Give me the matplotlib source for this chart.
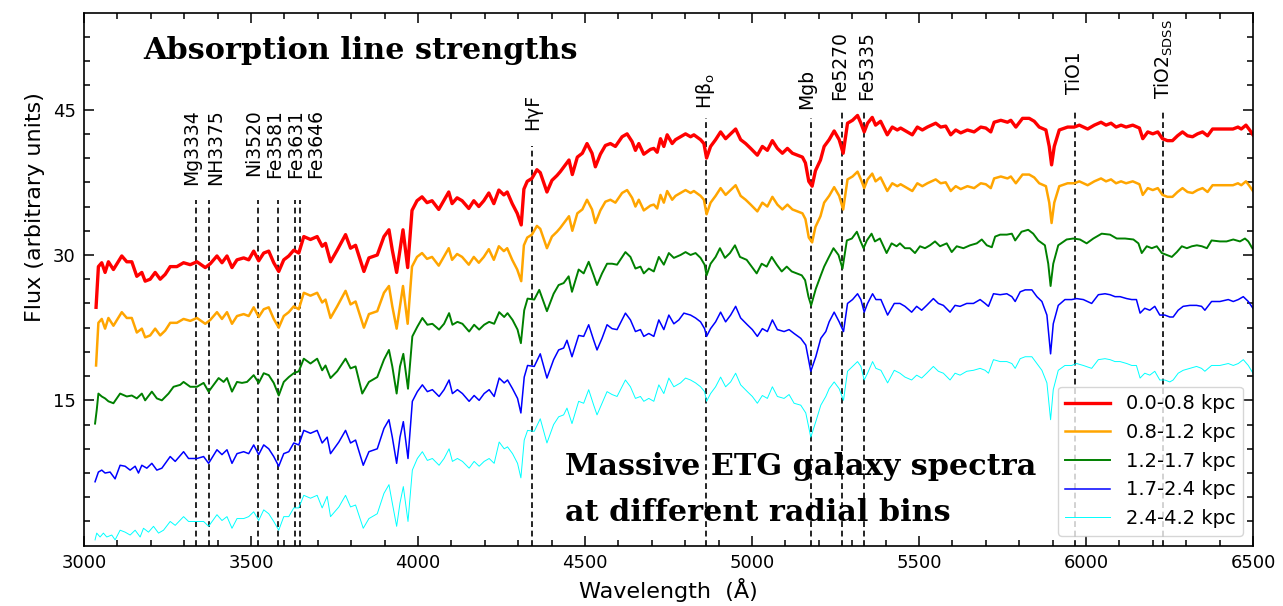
import matplotlib
matplotlib.use("Agg")
import matplotlib.pyplot as plt

# --- spectra (wavelength in Angstrom, flux in arbitrary units) ---
wave_inner = [
    3036, 3043, 3053, 3063, 3073, 3088, 3113, 3128, 3143, 3158,
    3173, 3183, 3198, 3213, 3228, 3243, 3258, 3278, 3298, 3318,
    3338, 3363, 3378, 3398, 3413, 3428, 3443, 3458, 3478, 3493,
    3508, 3523, 3538, 3553, 3568, 3583, 3598, 3613, 3628, 3643,
    3658, 3678, 3698, 3713, 3723, 3738, 3758, 3783, 3798, 3813,
    3838, 3853, 3878, 3898, 3913, 3923, 3936, 3946, 3955, 3969,
    3982, 3997, 4012, 4027, 4042, 4062, 4077, 4092, 4102, 4117,
    4132, 4152, 4167, 4182, 4197, 4212, 4227, 4242, 4257, 4267,
    4282, 4297, 4309, 4317, 4327, 4341, 4356, 4366, 4386, 4401,
    4416, 4426, 4437, 4452, 4462, 4477, 4492, 4506, 4521, 4531,
    4546, 4561, 4576, 4591, 4611, 4626, 4641, 4651, 4661, 4676,
    4696, 4706, 4716, 4726, 4736, 4746, 4761, 4771, 4786, 4801,
    4816, 4826, 4846, 4856, 4864, 4876, 4891, 4906, 4921, 4936,
    4951, 4966, 4981, 4996, 5016, 5031, 5046, 5061, 5076, 5091,
    5106, 5121, 5136, 5151, 5160, 5170, 5180, 5190, 5205, 5216,
    5231, 5246, 5261, 5273, 5286, 5301, 5316, 5326, 5336, 5346,
    5360, 5370, 5385, 5405, 5420, 5435, 5445, 5460, 5480, 5495,
    5510, 5525, 5550, 5565, 5580, 5595, 5610, 5625, 5645, 5665,
    5685, 5700, 5715, 5725, 5745, 5765, 5775, 5790, 5810, 5830,
    5845, 5860, 5880, 5890, 5897, 5905, 5920, 5945, 5965, 5980,
    6005, 6025, 6045, 6060, 6075, 6090, 6105, 6120, 6140, 6160,
    6170, 6185, 6200, 6215, 6229, 6244, 6259, 6274, 6289, 6304,
    6319, 6334, 6349, 6364, 6379, 6400, 6420, 6440, 6455, 6465,
    6479, 6490, 6500]

flux_00_08 = [
    24.6, 28.8, 29.2, 28.2, 29.3, 28.5, 29.9, 29.3, 29.3, 27.8,
    28.2, 27.3, 27.5, 28.2, 27.5, 28.0, 28.8, 28.8, 29.2, 29.0,
    29.3, 28.7, 29.1, 29.9, 29.2, 29.9, 28.7, 29.5, 29.7, 29.5,
    30.4, 29.4, 30.2, 30.4, 29.2, 28.3, 29.5, 29.9, 30.5, 30.2,
    31.9, 31.6, 31.9, 30.9, 31.2, 29.3, 30.5, 32.1, 30.7, 31.0,
    28.3, 29.7, 30.0, 31.9, 32.6, 30.5, 28.2, 30.5, 32.6, 28.7,
    34.6, 35.6, 36.0, 35.4, 35.6, 34.7, 35.6, 36.5, 35.3, 35.9,
    35.6, 34.8, 35.6, 35.0, 35.6, 36.4, 35.3, 36.7, 36.2, 36.5,
    35.3, 34.3, 33.1, 36.8, 37.6, 37.9, 38.8, 38.5, 36.5, 37.7,
    38.2, 38.6, 39.1, 39.8, 38.3, 40.1, 40.5, 41.5, 40.5, 39.1,
    40.4, 41.3, 41.5, 41.2, 42.2, 42.5, 41.7, 40.8, 41.5, 40.4,
    40.9, 41.0, 40.6, 42.0, 41.2, 42.4, 41.5, 41.9, 42.2, 42.5,
    42.2, 42.4, 41.9, 41.5, 40.0, 41.2, 41.9, 42.7, 42.0, 42.5,
    43.0, 41.9, 41.5, 41.0, 40.3, 41.2, 40.8, 41.8, 41.0, 40.5,
    41.0, 40.5, 40.3, 40.1, 39.5, 37.6, 37.1, 38.7, 39.8, 41.2,
    41.9, 42.8, 41.9, 40.5, 43.6, 43.9, 44.4, 43.6, 42.7, 43.6,
    44.2, 43.4, 43.8, 42.4, 43.2, 42.9, 43.1, 42.8, 42.4, 43.2,
    42.9, 43.2, 43.6, 43.2, 43.3, 42.4, 42.9, 42.6, 42.9, 42.7,
    43.2, 43.1, 42.7, 43.7, 43.9, 43.7, 43.9, 43.2, 44.1, 44.1,
    43.8, 43.2, 42.9, 41.2, 39.3, 41.2, 42.9, 43.2, 43.2, 43.4,
    43.0, 43.4, 43.7, 43.4, 43.6, 43.2, 43.4, 43.2, 43.4, 43.1,
    42.0, 42.7, 42.5, 42.7, 42.0, 41.8, 41.8, 42.3, 42.7, 42.3,
    42.2, 42.5, 42.7, 42.3, 43.0, 43.0, 43.0, 43.0, 43.2, 43.0,
    43.4, 42.9, 42.4]

flux_08_12 = [
    18.6, 23.0, 23.4, 22.4, 23.5, 22.7, 24.1, 23.5, 23.5, 22.0,
    22.4, 21.5, 21.7, 22.4, 21.7, 22.2, 23.0, 23.0, 23.4, 23.2,
    23.5, 22.9, 23.3, 24.1, 23.4, 24.1, 22.9, 23.7, 23.9, 23.7,
    24.6, 23.6, 24.4, 24.6, 23.4, 22.5, 23.7, 24.1, 24.7, 24.4,
    26.1, 25.8, 26.1, 25.1, 25.4, 23.5, 24.7, 26.3, 24.9, 25.2,
    22.5, 23.9, 24.2, 26.1, 26.8, 24.7, 22.4, 24.7, 26.8, 22.9,
    28.8, 29.8, 30.2, 29.6, 29.8, 28.9, 29.8, 30.7, 29.5, 30.1,
    29.8, 29.0, 29.8, 29.2, 29.8, 30.6, 29.5, 30.9, 30.4, 30.7,
    29.5, 28.5, 27.3, 31.0, 31.8, 32.1, 33.0, 32.7, 30.7, 31.9,
    32.4, 32.8, 33.3, 34.0, 32.5, 34.3, 34.7, 35.7, 34.7, 33.3,
    34.6, 35.5, 35.7, 35.4, 36.4, 36.7, 35.9, 35.0, 35.7, 34.6,
    35.1, 35.2, 34.8, 36.2, 35.4, 36.6, 35.7, 36.1, 36.4, 36.7,
    36.4, 36.6, 36.1, 35.7, 34.2, 35.4, 36.1, 36.9, 36.2, 36.7,
    37.2, 36.1, 35.7, 35.2, 34.5, 35.4, 35.0, 36.0, 35.2, 34.7,
    35.2, 34.7, 34.5, 34.3, 33.7, 31.8, 31.3, 32.9, 34.0, 35.4,
    36.1, 37.0, 36.1, 34.7, 37.8, 38.1, 38.6, 37.8, 36.9, 37.8,
    38.4, 37.6, 38.0, 36.6, 37.4, 37.1, 37.3, 37.0, 36.6, 37.4,
    37.1, 37.4, 37.8, 37.4, 37.5, 36.6, 37.1, 36.8, 37.1, 36.9,
    37.4, 37.3, 36.9, 37.9, 38.1, 37.9, 38.1, 37.4, 38.3, 38.3,
    38.0, 37.4, 37.1, 35.4, 33.3, 35.4, 37.1, 37.4, 37.4, 37.6,
    37.2, 37.6, 37.9, 37.6, 37.8, 37.4, 37.6, 37.4, 37.6, 37.3,
    36.2, 36.9, 36.7, 36.9, 36.2, 36.0, 36.0, 36.5, 36.9, 36.5,
    36.4, 36.7, 36.9, 36.5, 37.2, 37.2, 37.2, 37.2, 37.4, 37.2,
    37.6, 37.1, 36.6]

wave_12_17 = [
    3033, 3038, 3043, 3053, 3063, 3073, 3088, 3108, 3128, 3143,
    3158, 3173, 3183, 3203, 3218, 3233, 3253, 3268, 3288, 3298,
    3318, 3338, 3358, 3373, 3388, 3403, 3418, 3428, 3443, 3458,
    3473, 3488, 3508, 3523, 3538, 3553, 3568, 3583, 3598, 3613,
    3628, 3643, 3658, 3678, 3698, 3713, 3723, 3738, 3758, 3783,
    3798, 3813, 3833, 3853, 3878, 3898, 3913, 3923, 3936, 3946,
    3956, 3970, 3983, 3998, 4013, 4028, 4043, 4063, 4078, 4093,
    4103, 4118, 4133, 4153, 4168, 4183, 4198, 4213, 4228, 4243,
    4258, 4268, 4283, 4298, 4308, 4318, 4328, 4348, 4363, 4386,
    4406, 4421, 4436, 4451, 4461, 4481, 4496, 4511, 4526, 4536,
    4551, 4566, 4581, 4596, 4621, 4636, 4651, 4666, 4676, 4691,
    4706, 4721, 4736, 4751, 4766, 4786, 4801, 4816, 4831, 4846,
    4858, 4864, 4876, 4891, 4904, 4919, 4934, 4949, 4964, 4984,
    4999, 5014, 5029, 5044, 5059, 5074, 5089, 5104, 5119, 5134,
    5149, 5159, 5169, 5177, 5191, 5206, 5216, 5229, 5244, 5259,
    5271, 5284, 5299, 5314, 5324, 5334, 5344, 5358, 5368, 5383,
    5403, 5418, 5433, 5443, 5458, 5473, 5488, 5503, 5518, 5533,
    5548, 5563, 5583, 5598, 5613, 5633, 5653, 5673, 5688, 5703,
    5718, 5728, 5743, 5763, 5778, 5788, 5807, 5827, 5842, 5857,
    5877, 5887, 5894, 5902, 5917, 5942, 5962, 5982, 6002, 6022,
    6047, 6072, 6092, 6117, 6142, 6157, 6167, 6182, 6197, 6212,
    6227, 6242, 6257, 6272, 6287, 6302, 6317, 6332, 6347, 6362,
    6376, 6401, 6421, 6441, 6461, 6476, 6486, 6498]

flux_12_17 = [
    12.6, 14.0, 15.7, 15.4, 15.2, 14.9, 14.7, 15.7, 15.4, 15.5,
    15.2, 15.7, 15.0, 15.9, 15.2, 15.0, 15.7, 16.4, 16.6, 16.9,
    16.4, 16.4, 16.8, 15.9, 16.6, 17.3, 16.9, 17.3, 15.9, 16.9,
    16.8, 16.9, 17.6, 16.8, 17.8, 17.6, 16.8, 15.5, 16.9, 17.4,
    17.8, 18.0, 19.3, 18.8, 19.3, 18.1, 18.6, 17.3, 18.0, 19.3,
    18.3, 18.5, 15.7, 16.9, 17.4, 19.2, 20.2, 18.5, 15.7, 18.5,
    19.8, 16.2, 21.6, 22.6, 23.5, 22.8, 22.9, 22.3, 22.9, 24.0,
    22.8, 23.1, 22.9, 22.1, 22.8, 22.3, 22.8, 23.1, 22.9, 24.1,
    23.6, 24.0, 23.3, 22.3, 20.9, 24.3, 25.5, 25.4, 26.4, 24.2,
    26.0, 26.9, 27.1, 27.8, 26.2, 28.5, 28.1, 29.3, 27.9, 26.9,
    28.1, 29.1, 29.1, 29.0, 30.3, 29.8, 28.6, 28.8, 28.1, 28.6,
    28.3, 29.8, 29.0, 30.2, 29.7, 30.0, 30.3, 30.0, 30.2, 29.7,
    29.0, 27.9, 29.1, 29.8, 30.7, 29.7, 30.2, 31.0, 29.8, 29.5,
    28.8, 28.1, 29.1, 28.8, 29.8, 29.0, 28.3, 28.8, 28.3, 28.1,
    27.9, 27.4, 25.7, 24.8, 26.5, 27.9, 28.8, 29.7, 30.7, 30.0,
    28.6, 31.5, 31.7, 32.4, 31.5, 30.7, 31.5, 32.2, 31.4, 31.7,
    30.2, 31.2, 30.9, 31.2, 30.7, 30.7, 30.2, 30.9, 30.7, 31.0,
    31.4, 30.9, 31.2, 30.3, 30.9, 30.7, 31.0, 31.2, 31.6, 31.0,
    30.8, 31.9, 32.1, 32.1, 32.2, 31.5, 32.4, 32.6, 32.2, 31.5,
    31.0, 29.1, 26.8, 29.1, 31.0, 31.6, 31.7, 31.6, 31.2, 31.7,
    32.2, 32.1, 31.7, 31.7, 31.6, 31.2, 30.2, 30.9, 30.7, 30.9,
    30.2, 30.0, 29.8, 30.3, 30.9, 30.7, 30.9, 31.0, 30.9, 30.7,
    31.5, 31.4, 31.4, 31.6, 31.4, 31.7, 31.4, 30.7]

wave_17_24 = [
    3033, 3043, 3053, 3063, 3078, 3093, 3108, 3123, 3138, 3153,
    3163, 3173, 3188, 3203, 3218, 3233, 3258, 3273, 3298, 3313,
    3338, 3358, 3373, 3398, 3413, 3428, 3443, 3458, 3478, 3493,
    3508, 3523, 3538, 3553, 3568, 3583, 3598, 3613, 3628, 3643,
    3658, 3678, 3698, 3713, 3728, 3738, 3763, 3783, 3798, 3813,
    3836, 3853, 3878, 3898, 3913, 3923, 3936, 3946, 3956, 3970,
    3983, 3998, 4013, 4028, 4043, 4063, 4078, 4093, 4103, 4118,
    4133, 4153, 4168, 4183, 4198, 4213, 4228, 4243, 4258, 4268,
    4283, 4298, 4308, 4318, 4328, 4348, 4366, 4386, 4406, 4421,
    4436, 4446, 4461, 4481, 4496, 4511, 4526, 4536, 4551, 4566,
    4581, 4596, 4621, 4636, 4651, 4666, 4676, 4691, 4706, 4721,
    4736, 4751, 4766, 4781, 4796, 4816, 4831, 4846, 4858, 4864,
    4876, 4891, 4906, 4921, 4936, 4951, 4966, 4986, 5001, 5016,
    5031, 5046, 5061, 5076, 5096, 5111, 5126, 5146, 5161, 5176,
    5191, 5206, 5221, 5231, 5246, 5261, 5274, 5286, 5301, 5316,
    5326, 5336, 5346, 5361, 5371, 5386, 5406, 5426, 5443, 5458,
    5478, 5493, 5508, 5523, 5543, 5558, 5573, 5593, 5608, 5623,
    5643, 5663, 5683, 5698, 5708, 5723, 5743, 5763, 5778, 5788,
    5803, 5818, 5838, 5853, 5868, 5883, 5894, 5902, 5917, 5937,
    5957, 5972, 5992, 6017, 6037, 6057, 6072, 6087, 6102, 6122,
    6137, 6151, 6162, 6176, 6191, 6206, 6221, 6236, 6251, 6261,
    6276, 6291, 6311, 6331, 6346, 6356, 6376, 6401, 6426, 6441,
    6456, 6471, 6486, 6500]

flux_17_24 = [
    6.6, 7.6, 7.8, 7.5, 7.6, 6.9, 8.3, 8.2, 7.8, 8.2,
    7.5, 8.3, 8.0, 8.5, 7.8, 8.0, 9.2, 8.7, 9.7, 9.0,
    9.0, 9.2, 8.5, 9.9, 9.4, 9.9, 8.5, 9.5, 9.7, 9.5,
    10.4, 9.4, 10.4, 10.0, 9.2, 8.2, 9.5, 9.7, 10.6, 10.4,
    11.9, 11.6, 11.9, 10.6, 11.2, 9.5, 10.7, 11.9, 10.6, 10.9,
    8.3, 9.7, 10.0, 12.1, 13.0, 11.2, 8.5, 11.2, 12.8, 9.0,
    14.9, 15.9, 16.6, 15.9, 16.1, 15.4, 16.1, 17.1, 15.7, 16.1,
    15.7, 14.9, 15.5, 15.0, 15.7, 16.1, 15.4, 17.3, 16.8, 17.1,
    16.2, 15.2, 13.7, 17.4, 18.6, 18.5, 19.8, 17.3, 19.2, 20.2,
    20.4, 21.2, 19.5, 21.7, 21.6, 22.8, 21.2, 20.2, 21.4, 22.8,
    22.4, 22.3, 24.0, 23.3, 22.1, 22.3, 21.6, 21.9, 21.6, 23.3,
    22.3, 23.8, 22.9, 23.3, 24.0, 23.8, 23.5, 23.1, 22.4, 21.6,
    22.4, 23.1, 24.1, 23.1, 23.8, 24.7, 23.5, 22.8, 22.3, 21.6,
    22.4, 22.1, 23.3, 22.3, 22.1, 22.3, 21.9, 21.4, 20.7, 18.0,
    19.5, 21.4, 22.1, 23.1, 24.1, 23.1, 22.1, 25.0, 25.4, 26.0,
    25.4, 24.1, 25.0, 26.0, 25.4, 25.4, 23.8, 25.0, 25.0, 24.7,
    24.1, 24.7, 24.3, 24.8, 25.5, 25.0, 24.8, 24.1, 24.8, 24.7,
    25.0, 25.0, 25.4, 25.0, 24.7, 26.0, 25.9, 26.0, 25.7, 25.2,
    26.2, 26.4, 26.4, 25.7, 25.2, 23.8, 19.8, 22.9, 24.8, 25.4,
    25.4, 25.5, 25.4, 25.0, 25.9, 26.0, 25.9, 25.7, 25.7, 25.5,
    25.4, 25.4, 24.0, 24.5, 24.3, 24.7, 23.8, 23.8, 23.6, 23.6,
    24.3, 24.7, 24.8, 24.8, 24.7, 24.3, 25.2, 25.2, 25.4, 25.2,
    25.4, 25.7, 25.2, 24.5]

wave_24_42 = [
    3033, 3038, 3048, 3058, 3068, 3083, 3093, 3108, 3123, 3138,
    3153, 3168, 3178, 3193, 3208, 3223, 3238, 3258, 3273, 3298,
    3313, 3338, 3358, 3373, 3398, 3413, 3428, 3443, 3458, 3478,
    3493, 3508, 3523, 3538, 3553, 3568, 3583, 3598, 3613, 3628,
    3643, 3658, 3678, 3698, 3713, 3728, 3738, 3763, 3783, 3798,
    3813, 3836, 3853, 3878, 3898, 3913, 3923, 3936, 3946, 3956,
    3970, 3983, 3998, 4013, 4028, 4043, 4063, 4078, 4093, 4103,
    4118, 4133, 4153, 4168, 4183, 4198, 4213, 4228, 4243, 4258,
    4268, 4283, 4298, 4308, 4318, 4328, 4348, 4366, 4386, 4406,
    4421, 4436, 4446, 4461, 4481, 4496, 4511, 4526, 4536, 4551,
    4566, 4581, 4596, 4621, 4636, 4651, 4666, 4676, 4691, 4706,
    4721, 4736, 4751, 4766, 4786, 4801, 4816, 4831, 4846, 4858,
    4864, 4876, 4891, 4906, 4921, 4936, 4951, 4966, 4986, 5001,
    5016, 5031, 5046, 5061, 5076, 5096, 5111, 5126, 5146, 5161,
    5176, 5191, 5206, 5221, 5231, 5246, 5261, 5274, 5286, 5301,
    5316, 5326, 5336, 5346, 5361, 5371, 5386, 5406, 5426, 5443,
    5458, 5478, 5493, 5508, 5523, 5543, 5558, 5573, 5593, 5608,
    5623, 5643, 5663, 5683, 5698, 5708, 5723, 5743, 5763, 5778,
    5788, 5803, 5818, 5838, 5853, 5868, 5883, 5894, 5902, 5917,
    5937, 5957, 5972, 5992, 6017, 6037, 6057, 6072, 6087, 6102,
    6122, 6137, 6151, 6162, 6176, 6191, 6206, 6221, 6236, 6251,
    6261, 6276, 6291, 6311, 6331, 6346, 6356, 6376, 6401, 6426,
    6441, 6456, 6471, 6486, 6500]

flux_24_42 = [
    0.6, 1.3, 0.9, 1.3, 0.9, 1.1, 0.6, 1.6, 1.4, 1.1,
    1.6, 0.9, 1.8, 1.4, 2.0, 1.3, 1.6, 2.5, 2.1, 3.0,
    2.5, 2.5, 2.5, 2.0, 3.2, 2.6, 3.0, 1.8, 2.8, 2.8,
    3.0, 3.5, 2.6, 3.7, 3.3, 2.5, 1.6, 3.0, 3.0, 3.9,
    3.9, 5.2, 4.9, 5.2, 3.9, 5.1, 3.0, 4.0, 5.2, 4.0,
    4.2, 1.8, 2.8, 3.3, 5.4, 6.3, 4.4, 2.0, 4.4, 6.1,
    2.5, 7.8, 9.0, 9.7, 8.8, 9.0, 8.3, 9.0, 10.0, 8.7,
    9.0, 8.7, 8.0, 8.7, 8.2, 8.7, 9.0, 8.5, 10.7, 10.0,
    10.2, 9.5, 8.5, 7.0, 10.9, 11.9, 11.8, 13.1, 10.6, 12.5,
    13.3, 13.5, 14.2, 12.6, 14.9, 14.7, 16.1, 14.5, 13.5, 14.7,
    15.9, 15.6, 15.4, 17.1, 16.4, 15.2, 15.4, 14.9, 15.2, 14.9,
    16.6, 15.7, 17.3, 16.4, 16.8, 17.3, 17.1, 16.8, 16.4, 15.9,
    14.9, 15.7, 16.4, 17.4, 16.4, 16.9, 17.8, 16.6, 15.9, 15.4,
    14.7, 15.5, 15.2, 16.4, 15.4, 15.2, 15.6, 14.7, 14.5, 13.7,
    11.2, 12.8, 14.5, 15.4, 16.2, 16.9, 16.2, 15.0, 18.0, 18.5,
    19.0, 18.5, 17.1, 17.8, 19.0, 18.3, 18.1, 16.8, 18.1, 17.8,
    17.4, 17.1, 17.6, 17.3, 17.8, 18.5, 18.0, 17.8, 17.1, 17.8,
    17.6, 18.0, 18.1, 18.3, 18.1, 17.8, 19.2, 19.0, 19.0, 18.8,
    18.3, 19.3, 19.5, 19.5, 18.8, 18.1, 16.8, 13.0, 16.1, 18.1,
    18.6, 18.6, 18.8, 18.6, 18.3, 19.2, 19.3, 19.2, 19.0, 19.0,
    18.8, 18.6, 18.6, 17.3, 17.8, 17.6, 18.0, 17.1, 17.1, 16.9,
    17.1, 17.8, 18.1, 18.3, 18.5, 18.3, 18.0, 18.6, 18.6, 18.8,
    18.6, 18.8, 19.2, 18.6, 17.8]

bin_labels = ["0.0-0.8 kpc", "0.8-1.2 kpc", "1.2-1.7 kpc", "1.7-2.4 kpc", "2.4-4.2 kpc"]

# index features marked with dashed lines
index_names = ["Mg3334", "NH3375", "Ni3520", "Fe3581", "Fe3631", "Fe3646",
               "HγF", r"Hβ$_\mathrm{o}$", "Mgb", "Fe5270", "Fe5335", "TiO1",
               r"TiO2$_\mathrm{SDSS}$"]
index_wave = [3334, 3375, 3520, 3581, 3631, 3646, 4340, 4862, 5178, 5270, 5335, 5968, 6232]

# where each dashed line stops, and where its label sits (data units)
line_top = [35.7, 35.7, 35.7, 35.7, 35.7, 35.7, 41.2, 44.1, 44.1, 45.1, 45.1, 45.1, 45.1]
label_x = [3322, 3394, 3507, 3572, 3635, 3692, 4344, 4862, 5164, 5263, 5343, 5967, 6234]
label_y = [37.2, 37.2, 38.2, 37.9, 37.9, 37.9, 42.9, 45.1, 45.1, 46.0, 46.0, 46.6, 46.1]

series = [
    (wave_inner, flux_00_08, "red", 2.4),
    (wave_inner, flux_08_12, "orange", 1.8),
    (wave_12_17, flux_12_17, "green", 1.4),
    (wave_17_24, flux_17_24, "blue", 1.1),
    (wave_24_42, flux_24_42, "cyan", 0.7),
]

fig, ax = plt.subplots(figsize=(12.83, 6.06), dpi=100)
fig.subplots_adjust(left=0.0655, right=0.9766, bottom=0.0995, top=0.979)

ax.vlines(index_wave, 0, line_top, colors="black", linestyles=(0, (3.5, 2.2)),
          linewidth=1.2, zorder=1)
for name, x, yl in zip(index_names, label_x, label_y):
    ax.text(x, yl, name, rotation=90, ha="center", va="bottom", fontsize=13.5)

for (w, f, c, lw), lab in zip(series, bin_labels):
    ax.plot(w, f, color=c, lw=lw, label=lab, zorder=2)

ax.set_xlim(3000, 6500)
ax.set_ylim(0, 55)
ax.set_xticks(range(3000, 6501, 500))
ax.set_xticks(range(3000, 6501, 100), minor=True)
ax.set_yticks([15, 30, 45])
ax.set_yticks([v * 2.5 for v in range(1, 22)], minor=True)
ax.tick_params(which="both", direction="in", top=True, right=True, width=1.1)
ax.tick_params(which="major", length=7, labelsize=13, pad=6)
ax.tick_params(which="minor", length=4)
for s in ax.spines.values():
    s.set_linewidth(1.2)

ax.set_xlabel("Wavelength  (Å)", fontsize=16)
ax.set_ylabel("Flux (arbitrary units)", fontsize=16)
ax.yaxis.set_label_coords(-0.033, 0.635)

title_font = dict(fontfamily="DejaVu Serif", fontweight="bold", fontsize=21.8)
ax.text(3178, 50.2, "Absorption line strengths", **title_font)
ax.text(4440, 7.3, "Massive ETG galaxy spectra", **title_font)
ax.text(4440, 2.5, "at different radial bins", **title_font)

ax.legend(loc="lower right", fontsize=14, labelspacing=0.5, handlelength=2.3)

fig.savefig("out.png", dpi=100)
